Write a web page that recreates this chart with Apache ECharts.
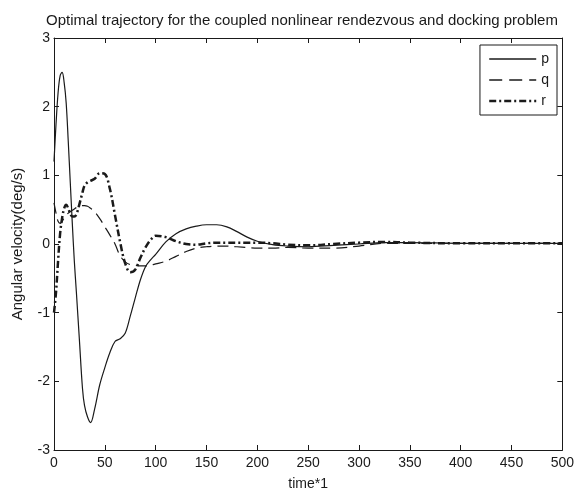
<!DOCTYPE html>
<html><head><meta charset="utf-8">
<script src="https://cdn.jsdelivr.net/npm/echarts@6/dist/echarts.min.js"></script>
<style>html,body{margin:0;padding:0;background:#fff}#c{width:577px;height:496px}</style>
</head><body><div id="c"></div>
<script>
var titleText = "Optimal trajectory for the coupled nonlinear rendezvous and docking problem";
var xName = "time*1";
var yName = "Angular velocity(deg/s)";
var time = [0,2,4,6,8,10,12,14,16,18,20,22,25,28,30,33,36,40,45,50,55,60,65,70,75,80,85,90,95,100,110,120,130,140,150,160,170,180,190,200,215,230,250,275,300,325,350,400,450,500];
var pVals = [1.2,1.75,2.2,2.45,2.5,2.35,2.05,1.5,0.9,0.3,-0.25,-0.7,-1.4,-2.1,-2.35,-2.52,-2.6,-2.4,-2.05,-1.8,-1.58,-1.42,-1.38,-1.3,-1.05,-0.78,-0.52,-0.33,-0.23,-0.15,0.03,0.15,0.22,0.26,0.28,0.28,0.25,0.18,0.1,0.04,-0.01,-0.03,-0.04,-0.02,0.0,0.02,0.02,0.01,0.01,0.01];
var qVals = [0.6,0.45,0.33,0.3,0.33,0.38,0.42,0.45,0.47,0.49,0.51,0.53,0.55,0.56,0.56,0.55,0.52,0.47,0.37,0.25,0.13,0.0,-0.17,-0.26,-0.3,-0.31,-0.32,-0.32,-0.31,-0.29,-0.25,-0.18,-0.11,-0.06,-0.04,-0.03,-0.03,-0.04,-0.05,-0.06,-0.06,-0.05,-0.06,-0.06,-0.03,0.01,0.01,0.01,0.01,0.01];
var rVals = [-1.0,-0.7,-0.25,0.15,0.38,0.52,0.57,0.52,0.44,0.4,0.4,0.43,0.58,0.75,0.85,0.9,0.92,0.95,1.03,1.02,0.8,0.42,0.03,-0.28,-0.41,-0.37,-0.2,-0.05,0.06,0.12,0.1,0.04,0.0,-0.01,0.01,0.02,0.02,0.02,0.02,0.02,0.01,-0.01,-0.02,0.0,0.02,0.03,0.02,0.01,0.01,0.01];
var seriesNames = ["p","q","r"];

function pairs(v){ return time.map(function(t,i){ return [t, v[i]]; }); }
var ink = '#1a1a1a';
var font = 'Liberation Sans, Arial, sans-serif';
var chart = echarts.init(document.getElementById('c'), null, {renderer:'canvas'});
function axisCommon(){ return {
  axisLine:{show:true,onZero:false,lineStyle:{color:ink,width:1}},
  axisTick:{show:true,inside:true,length:5,lineStyle:{color:ink}},
  splitLine:{show:false}
};}
var styles = {
  p:{color:ink,width:1.2,type:'solid'},
  q:{color:ink,width:1.2,type:[11,6]},
  r:{color:ink,width:2.5,type:[7,3,2,3]}
};
var legendStyles = {
  p:{color:ink,width:1.6,type:'solid'},
  q:{color:ink,width:1.6,type:[13,7]},
  r:{color:ink,width:2.5,type:[7,3,2,3]}
};
chart.setOption({
  animation:false,
  backgroundColor:'#fff',
  title:{text:titleText,left:41,top:8,textStyle:{fontFamily:font,fontSize:15,fontWeight:'normal',color:ink}},
  legend:{
    data:seriesNames.map(function(n){ return {name:n, lineStyle:legendStyles[n]}; }),
    orient:'vertical', right:20, top:45, align:'left',
    itemWidth:47, itemHeight:14, itemGap:7, padding:[7,8,7,8],
    borderColor:ink, borderWidth:1, backgroundColor:'#fff',
    itemStyle:{opacity:0},
    textStyle:{fontFamily:font,fontSize:14,color:ink}
  },
  grid:{left:54,right:13,top:38,bottom:42},
  xAxis:[
    Object.assign({type:'value',min:0,max:500,interval:50,position:'bottom',
      name:xName,nameLocation:'middle',nameGap:27,
      nameTextStyle:{fontFamily:font,fontSize:14,color:ink},
      axisLabel:{fontFamily:font,fontSize:14,color:ink,margin:6}},axisCommon()),
    Object.assign({type:'value',min:0,max:500,interval:50,position:'top',
      axisLabel:{show:false}},axisCommon())
  ],
  yAxis:[
    Object.assign({type:'value',min:-3,max:3,interval:1,position:'left',
      name:yName,nameLocation:'middle',nameGap:29,
      nameTextStyle:{fontFamily:font,fontSize:15,color:ink},
      axisLabel:{fontFamily:font,fontSize:14,color:ink,margin:4}},axisCommon()),
    Object.assign({type:'value',min:-3,max:3,interval:1,position:'right',
      axisLabel:{show:false}},axisCommon())
  ],
  series:seriesNames.map(function(n, i){
    var vals = [pVals, qVals, rVals][i];
    return {name:n,type:'line',data:pairs(vals),smooth:0.35,symbol:'none',lineStyle:styles[n],itemStyle:{color:ink}};
  })
});
</script></body></html>
